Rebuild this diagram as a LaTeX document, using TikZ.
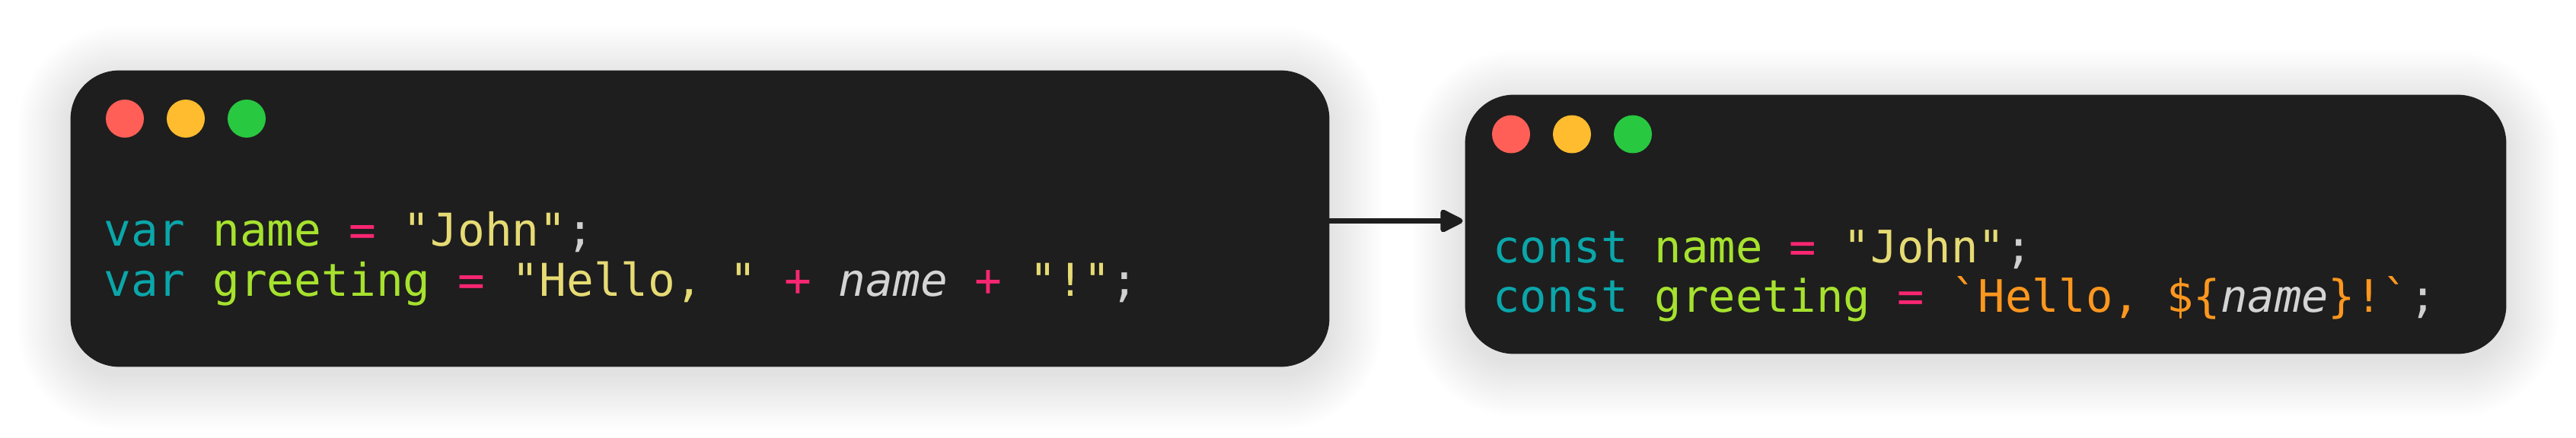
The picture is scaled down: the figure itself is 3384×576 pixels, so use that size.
\documentclass[tikz,border=0pt]{standalone}
\usepackage{fontspec}
\setmonofont{DejaVu Sans Mono}
\usetikzlibrary{arrows.meta,calc}
\definecolor{winbg}{HTML}{1E1E1E}
\definecolor{kw}{HTML}{0AA6AA}
\definecolor{idc}{HTML}{A6E22E}
\definecolor{opc}{HTML}{F92672}
\definecolor{strc}{HTML}{E6DB74}
\definecolor{tplc}{HTML}{FD971F}
\definecolor{varc}{HTML}{D4D4D4}
\definecolor{punc}{HTML}{D0D0D0}
\definecolor{dotr}{HTML}{FF5F57}
\definecolor{doty}{HTML}{FEBC2E}
\definecolor{dotg}{HTML}{28C840}
\definecolor{arrc}{HTML}{1E1E1E}
\tikzset{
 win/.style={rectangle, rounded corners=32pt, fill=winbg, inner sep=0pt},
 shadowlayer/.style={fill=black, fill opacity=0.0045},
 dot/.style={circle, inner sep=0pt, minimum size=25pt},
 code/.style={anchor=base west, inner sep=0pt, font=\ttfamily\fontsize{29.7}{33}\selectfont},
 rcode/.style={code, font=\ttfamily\fontsize{29.4}{33}\selectfont},
 conn/.style={arrc, line width=3.5pt, line cap=round, -{Triangle[round,length=17pt,width=16pt]}}
}
\begin{document}
\begin{tikzpicture}[x=0.5pt,y=-0.5pt]
\path[use as bounding box, fill=white] (0,0) rectangle (3384,576);
\frenchspacing
% window frames (named, placed first so shadows can use their anchors)
\path node[minimum width=826.5pt, minimum height=194.5pt, inner sep=0pt] (lw) at (919.5,287.5) {}
      node[minimum width=683.5pt, minimum height=170pt, inner sep=0pt] (rw) at (2608.5,295) {};
% soft shadows
\foreach \w in {lw,rw}{
  \foreach \d in {0,2.5,...,70}{
    \pgfmathsetmacro{\rc}{32+0.5*\d}
    \fill[shadowlayer, rounded corners=\rc pt]
      ([shift={(-\d,-\d+12)}]\w.north west) rectangle ([shift={(\d,\d+12)}]\w.south east);
  }
}
% windows
\fill[win] (lw.north west) rectangle (lw.south east);
\fill[win] (rw.north west) rectangle (rw.south east);
% dots
\node[dot, fill=dotr] (lr) at (164,156) {};
\node[dot, fill=doty] (ly) at (244,156) {};
\node[dot, fill=dotg] (lg) at (324,156) {};
\node[dot, fill=dotr] (rr) at (1985,176.5) {};
\node[dot, fill=doty] (ry) at (2065,176.5) {};
\node[dot, fill=dotg] (rg) at (2145,176.5) {};
% code
\node[code] (l1) at (136,324) {\textcolor{kw}{var} \textcolor{idc}{name} \textcolor{opc}{=} \textcolor{strc}{"John"}\textcolor{punc}{;}};
\node[code] (l2) at (136,390) {\textcolor{kw}{var} \textcolor{idc}{greeting} \textcolor{opc}{=} \textcolor{strc}{"Hello, "} \textcolor{opc}{+} \textcolor{varc}{\itshape name} \textcolor{opc}{+} \textcolor{strc}{"!"}\textcolor{punc}{;}};
\node[rcode] (r1) at (1961,345.5) {\textcolor{kw}{const} \textcolor{idc}{name} \textcolor{opc}{=} \textcolor{strc}{"John"}\textcolor{punc}{;}};
\node[rcode] (r2) at (1961,410.6) {\textcolor{kw}{const} \textcolor{idc}{greeting} \textcolor{opc}{=} \textcolor{tplc}{\textasciigrave Hello, \$\{}\textcolor{varc}{\itshape name}\textcolor{tplc}{\}!\textasciigrave}\textcolor{punc}{;}};
% arrow
\coordinate (a0) at ([yshift=-1.5pt]lw.east);
\draw[conn, shorten >=1.5pt] (a0) -- (a0 -| rw.west);
\end{tikzpicture}
\end{document}
